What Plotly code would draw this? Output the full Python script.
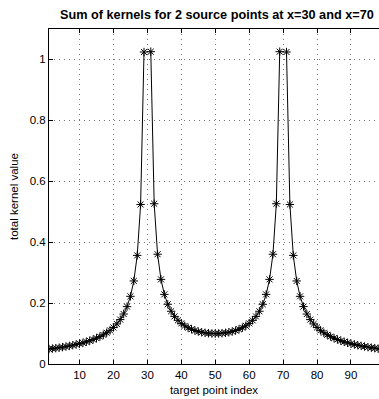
import plotly.graph_objects as go

x_index = list(range(1, 100))
left_half = [0.0490, 0.0504, 0.0520, 0.0536, 0.0554, 0.0573, 0.0594, 0.0616, 0.0640, 0.0667,
             0.0696, 0.0728, 0.0764, 0.0804, 0.0848, 0.0899, 0.0958, 0.1026, 0.1105, 0.1200,
             0.1315, 0.1458, 0.1641, 0.1884, 0.2222, 0.2727, 0.3566, 0.5238, 1.0244, None,
             1.0256, 0.5263, 0.3604, 0.2778, 0.2286, 0.1961, 0.1732, 0.1563, 0.1434, 0.1333,
             0.1254, 0.1190, 0.1140, 0.1099, 0.1067, 0.1042, 0.1023, 0.1010, 0.1003, 0.1000]
right_half = [0.1003, 0.1010, 0.1023, 0.1042, 0.1067, 0.1099, 0.1140, 0.1190, 0.1254,
              0.1333, 0.1434, 0.1563, 0.1732, 0.1961, 0.2286, 0.2778, 0.3604, 0.5263, 1.0256,
              None, 1.0244, 0.5238, 0.3566, 0.2727, 0.2222, 0.1884, 0.1641, 0.1458, 0.1315,
              0.1200, 0.1105, 0.1026, 0.0958, 0.0899, 0.0848, 0.0804, 0.0764, 0.0728, 0.0696,
              0.0667, 0.0640, 0.0616, 0.0594, 0.0573, 0.0554, 0.0536, 0.0520, 0.0504, 0.0490]
kernel_sum = left_half + right_half

x_ticks = [10, 20, 30, 40, 50, 60, 70, 80, 90]
y_ticks = [0, 0.2, 0.4, 0.6, 0.8, 1]
y_tick_labels = ["0", "0.2", "0.4", "0.6", "0.8", "1"]

FONT = "Liberation Sans, Arial, Helvetica, sans-serif"

fig = go.Figure()
fig.add_trace(go.Scatter(
    x=x_index, y=kernel_sum, mode="lines+markers",
    line=dict(color="black", width=1),
    marker=dict(symbol="asterisk-open", size=7, color="black", line=dict(color="black", width=1)),
    connectgaps=False, showlegend=False,
))

axis_common = dict(
    showline=True, linecolor="black", linewidth=1,
    ticks="inside", ticklen=4, tickcolor="black", tickwidth=1,
    showgrid=True, gridcolor="#777", griddash="1px,4px", gridwidth=1,
    zeroline=False,
    tickfont=dict(family=FONT, size=11.5, color="black"),
)

fig.update_layout(
    width=379, height=399,
    margin=dict(l=49, r=0, t=29, b=35),
    plot_bgcolor="white", paper_bgcolor="white",
    font=dict(family=FONT, size=11.5, color="black"),
    xaxis=dict(range=[1, 98.26], tickvals=x_ticks, mirror="ticks",
               title=dict(text="target point index", font=dict(family=FONT, size=11.5), standoff=6),
               **axis_common),
    yaxis=dict(range=[0, 1.1], tickvals=y_ticks, ticktext=y_tick_labels,
               title=dict(text="total kernel value", font=dict(family=FONT, size=11.5), standoff=8),
               **axis_common),
    annotations=[dict(
        text="<b>Sum of kernels for 2 source points at x=30 and x=70</b>",
        xref="paper", yref="paper", x=0.5076, y=1.0, yshift=5,
        xanchor="center", yanchor="bottom", showarrow=False,
        font=dict(family=FONT, size=12.7, color="black"),
    )],
)

fig.write_html("out.html")
